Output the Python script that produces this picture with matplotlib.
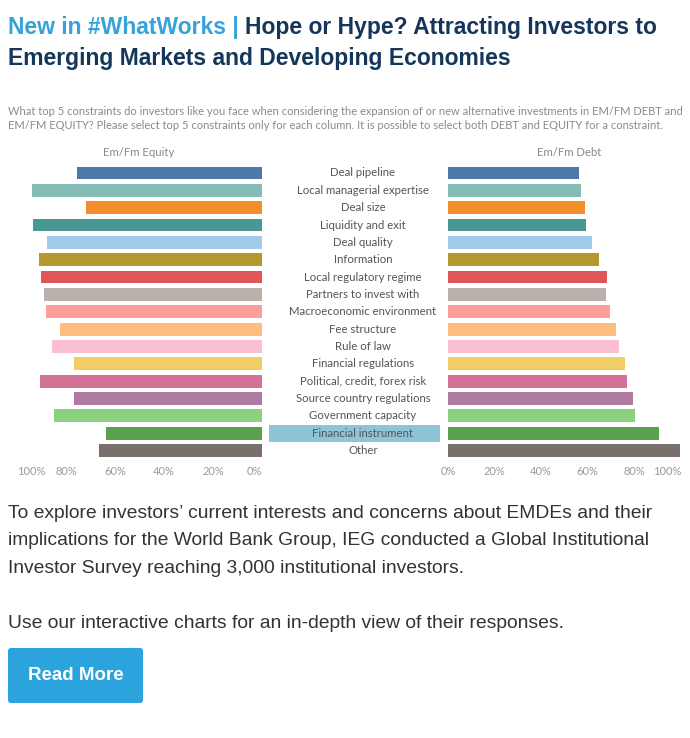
import matplotlib as mpl
mpl.use('Agg')
from matplotlib import pyplot as plt
from matplotlib.patches import FancyBboxPatch
import numpy as np

categories = ['Deal pipeline', 'Local managerial expertise', 'Deal size', 'Liquidity and exit',
              'Deal quality', 'Information', 'Local regulatory regime', 'Partners to invest with',
              'Macroeconomic environment', 'Fee structure', 'Rule of law', 'Financial regulations',
              'Political, credit, forex risk', 'Source country regulations', 'Government capacity',
              'Financial instrument', 'Other']
equity = [75.4, 93.9, 72.0, 93.6, 87.9, 91.1, 90.1, 89.0, 88.3, 82.6, 85.7, 76.6, 90.7, 76.6,
          84.8, 63.5, 66.5]
debt = [56.4, 57.1, 58.9, 59.2, 61.8, 64.9, 68.2, 68.0, 69.4, 72.0, 73.4, 76.0, 76.8, 79.5,
        80.3, 90.4, 99.7]
colors = ['#4e79a7', '#86bcb6', '#f28e2b', '#499894', '#a0cbe8', '#b6992d', '#e15759', '#bab0ac',
          '#ff9d9a', '#ffbe7d', '#fabfd2', '#f1ce63', '#d37295', '#b07aa1', '#8cd17d', '#59a14f',
          '#79706e']
ticks = [0, 20, 40, 60, 80, 100]
highlight = 'Financial instrument'

W, H = 690, 738
fig = plt.figure(figsize=(W / 100, H / 100), dpi=100)


def fx(px):
    return px / W


def fy(py):
    return 1 - py / H


def axes_px(x0, x1, y0, y1):
    return fig.add_axes([fx(x0), fy(y1), fx(x1 - x0), (y1 - y0) / H])


# header text
blue = '#35a2d9'
navy = '#14365a'
t1 = fig.text(fx(8), fy(34), 'New in #WhatWorks | ', color=blue, fontsize=16.5,
              fontweight='bold', family='Liberation Sans', va='baseline')
fig.canvas.draw()
x_end = t1.get_window_extent().x1
fig.text(x_end / W, fy(34), 'Hope or Hype? Attracting Investors to', color=navy, fontsize=16.5,
         fontweight='bold', family='Liberation Sans', va='baseline')
fig.text(fx(8), fy(65), 'Emerging Markets and Developing Economies', color=navy, fontsize=16.5,
         fontweight='bold', family='Liberation Sans', va='baseline')

sub = ('What top 5 constraints do investors like you face when considering the expansion of or new '
       'alternative investments in EM/FM DEBT and\nEM/FM EQUITY? Please select top 5 constraints only '
       'for each column. It is possible to select both DEBT and EQUITY for a constraint.')
fig.text(fx(8), fy(106), sub, color='#8a8a8a', fontsize=8.0, family='Lato', va='top',
         linespacing=1.3)

# chart
y = np.arange(len(categories))
top, bottom = 164.3, 459.2
ax_l = axes_px(17, 262, top, bottom)
ax_r = axes_px(448, 681, top, bottom)
ax_m = axes_px(262, 448, top, bottom)

ax_l.barh(y, equity, color=colors, height=0.74)
ax_l.set_xlim(100, 0)
ax_r.barh(y, debt, color=colors, height=0.74)
ax_r.set_xlim(0, 100)

for ax in (ax_l, ax_r, ax_m):
    ax.set_ylim(len(categories) - 0.5, -0.5)
    for s in ax.spines.values():
        s.set_visible(False)
    ax.set_yticks([])
    ax.patch.set_alpha(0)

for ax in (ax_l, ax_r):
    ax.set_xticks(ticks)
    ax.set_xticklabels([f'{t}%' for t in ticks])
    ax.tick_params(axis='x', length=0, pad=5, labelsize=8, labelcolor='#9a9a9a')
    for lab in ax.get_xticklabels():
        lab.set_family('Lato')

labs = ax_l.get_xticklabels()
labs[-1].set_horizontalalignment('left')
labs[0].set_horizontalalignment('right')
ax_r.get_xticklabels()[-1].set_horizontalalignment('right')

ax_m.set_xlim(0, 1)
ax_m.set_xticks([])
hi = categories.index(highlight)
ax_m.barh(hi, 0.92, left=0.038, height=0.96, color='#8ec4d8')
for i, c in enumerate(categories):
    ax_m.text(0.543, i, c, ha='center', va='center', fontsize=8.2, family='Lato',
              color='#555555')

fig.text(fx(139), fy(152), 'Em/Fm Equity', ha='center', va='center', fontsize=8.2,
         family='Lato', color='#8a8a8a')
fig.text(fx(569), fy(152), 'Em/Fm Debt', ha='center', va='center', fontsize=8.2,
         family='Lato', color='#8a8a8a')

# body text
body = ('To explore investors\u2019 current interests and concerns about EMDEs and their\n'
        'implications for the World Bank Group, IEG conducted a Global Institutional\n'
        'Investor Survey reaching 3,000 institutional investors.\n\n'
        'Use our interactive charts for an in-depth view of their responses.')
fig.text(fx(8), fy(505), body, color='#333333', fontsize=13.9, family='Liberation Sans',
         va='top', linespacing=1.8)

# button
btn = FancyBboxPatch((fx(8), fy(703)), fx(135), 55 / H,
                     boxstyle='round,pad=0,rounding_size=0.004', transform=fig.transFigure,
                     facecolor='#2ba4dd', edgecolor='none')
fig.add_artist(btn)
fig.text(fx(75.5), fy(675.5), 'Read More', ha='center', va='center', color='white',
         fontsize=13.5, fontweight='bold', family='Liberation Sans')

fig.savefig('out.png', dpi=100)
